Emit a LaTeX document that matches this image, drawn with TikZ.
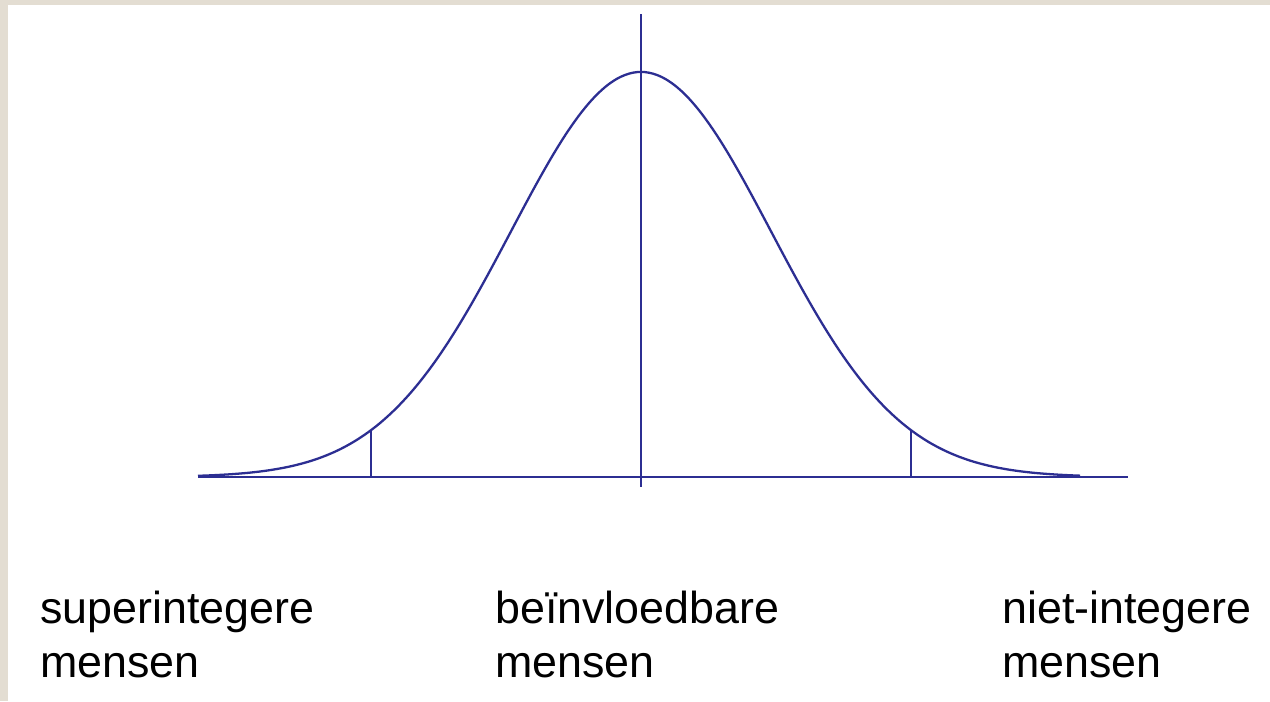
\documentclass[tikz,border=0pt]{standalone}
\usepackage{xcolor}
\usepackage{fontspec}
\setmainfont{Liberation Sans}
\usepackage{tikz}
\usetikzlibrary{positioning}

\definecolor{lijnblauw}{RGB}{44,46,146}
\definecolor{rand}{RGB}{227,221,210}

\begin{document}
\begin{tikzpicture}[
	x=0.02cm,
	y=-0.02cm,
	lijn/.style={
		draw=lijnblauw,
		line width=1.3pt
	},
	tekst/.style={
		anchor=base west,
		align=left,
		inner sep=0pt,
		font=\fontsize{25.5}{30.5}\selectfont
	}
	]
	
	% achtergrond
	\fill[rand] (0,0) rectangle (1270,701);
	\fill[white] (8,5) rectangle (1270,701);
	\useasboundingbox (0,0) rectangle (1270,701);
	
	\coordinate (links) at (198,477);
	\coordinate (rechts) at (1128,477);
	\coordinate (top) at (641,14);
	\coordinate (voet) at (641,487);
	\coordinate (grensL) at (371,477);
	\coordinate (grensR) at (911,477);
	\coordinate (grensLb) at (371,430);
	\coordinate (grensRb) at (911,430);
	
	\draw[lijn] (links) -- (rechts);
	\draw[lijn] (top) -- (voet);
	\draw[lijn] plot[domain=198:1080, samples=220, smooth] (\x, {477-405*exp(-0.5*((\x-641)/130)^2)});
	\draw[lijn] (grensL) -- (grensLb);
	\draw[lijn] (grensR) -- (grensRb);
	
	% onderschriften
	\node[tekst] (super) at (40,677) {superintegere\\mensen};
	\node[tekst] (beinv) at (495,677) {beïnvloedbare\\mensen};
	\node[tekst] (niet) at (1002,677) {niet-integere\\mensen};
\end{tikzpicture}
\end{document}
